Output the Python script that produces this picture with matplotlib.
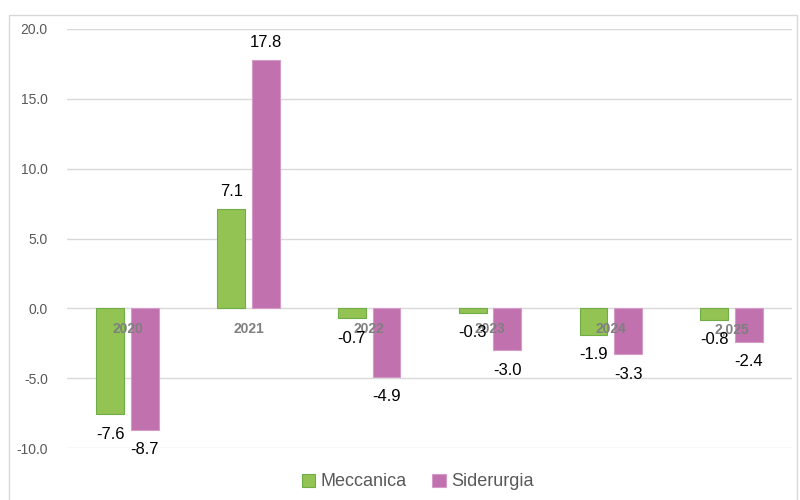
import matplotlib.pyplot as plt
import numpy as np
from matplotlib.patches import Rectangle

categories = ["2020", "2021", "2022", "2023", "2024", "2,025"]
meccanica = [-7.6, 7.1, -0.7, -0.3, -1.9, -0.8]
siderurgia = [-8.7, 17.8, -4.9, -3.0, -3.3, -2.4]

GREEN = "#92C353"
GREEN_EDGE = "#70AD47"
PINK = "#C071AE"
GREY = "#595959"

plt.rcParams['font.family'] = ['Liberation Sans', 'DejaVu Sans']

fig = plt.figure(figsize=(8, 5), dpi=100)
ax = fig.add_axes([0.084, 0.104, 0.906, 0.838])

x = np.arange(len(categories))
w = 0.23
off = 0.143
b1 = ax.bar(x - off, meccanica, w, color=GREEN, edgecolor=GREEN_EDGE, linewidth=0.8,
            label="Meccanica", zorder=3)
b2 = ax.bar(x + off, siderurgia, w, color=PINK, edgecolor="#D49BC8", linewidth=0.8,
            label="Siderurgia", zorder=3)

for bars, vals in ((b1, meccanica), (b2, siderurgia)):
    for bar, v in zip(bars, vals):
        cx = bar.get_x() + bar.get_width() / 2
        if v >= 0:
            ax.annotate(f"{v:.1f}", (cx, v), xytext=(0, 7), textcoords="offset points",
                        ha="center", va="bottom", fontsize=12, color="black", zorder=5)
        else:
            ax.annotate(f"{v:.1f}", (cx, v), xytext=(0, -9), textcoords="offset points",
                        ha="center", va="top", fontsize=12, color="black", zorder=5)

# category labels sit on the zero line
for i, c in enumerate(categories):
    ax.annotate(c, (i, 0), xytext=(0, -10), textcoords="offset points", ha="center",
                va="top", fontsize=10, fontweight="bold", color="#7F7F7F", zorder=4)

ax.set_xlim(-0.5, len(categories) - 0.5)
ax.set_ylim(-10, 20)
ax.set_yticks(np.arange(-10, 21, 5))
ax.set_yticklabels([f"{t:.1f}" for t in np.arange(-10, 21, 5)])
ax.set_xticks([])
ax.tick_params(axis="y", length=0, pad=14, labelsize=10, labelcolor=GREY)
ax.yaxis.grid(True, color="#D9D9D9", linewidth=1, zorder=0)
ax.set_axisbelow(True)
for s in ax.spines.values():
    s.set_visible(False)

leg = fig.legend(handles=[b1, b2], loc="center", bbox_to_anchor=(0.522, 0.036), ncol=2,
                 frameon=False, fontsize=13, handlelength=0.75, handleheight=0.75,
                 handletextpad=0.3, columnspacing=1.4)
for t in leg.get_texts():
    t.set_color(GREY)

fig.patches.append(Rectangle((9 / 800, -0.01), 788 / 800, 0.99 - 0.01 + 0.0,
                             transform=fig.transFigure, fill=False,
                             edgecolor="#D9D9D9", linewidth=1))

fig.savefig("out.png", dpi=100)
